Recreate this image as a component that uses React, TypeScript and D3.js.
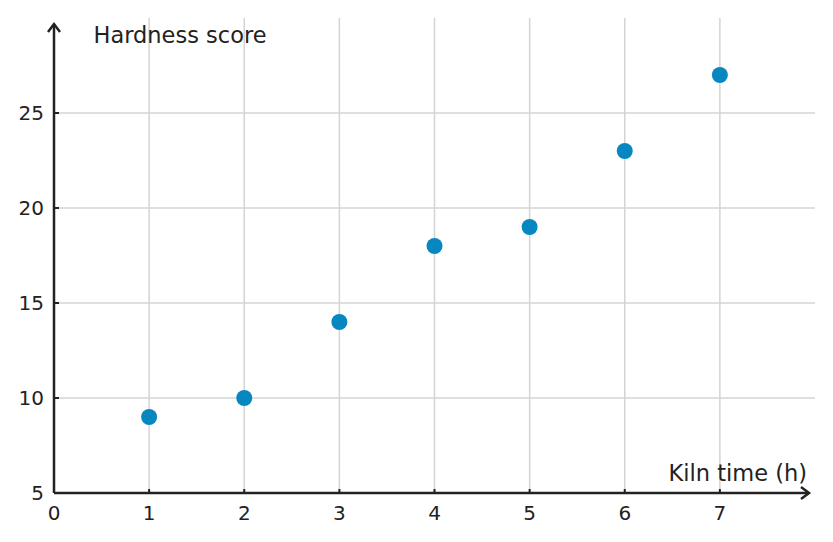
import React from "react";
import * as d3 from "d3";

const kilnHours = [1, 2, 3, 4, 5, 6, 7];
const hardness = [9, 10, 14, 18, 19, 23, 27];
const xTicks = [0, 1, 2, 3, 4, 5, 6, 7];
const yTicks = [5, 10, 15, 20, 25];
const xLabel = "Kiln time (h)";
const yLabel = "Hardness score";

const W = 833;
const H = 542;
const left = 54;
const right = 815;
const bottom = 493;
const top = 18;

export default function App() {
  const x = d3.scaleLinear().domain([0, 8]).range([left, right]);
  const y = d3.scaleLinear().domain([5, 30]).range([bottom, top]);
  const axisColor = "#222";
  const font = "DejaVu Sans, sans-serif";
  return (
    <svg
      width={W}
      height={H}
      style={{ position: "absolute", left: 0, top: 0, background: "#fff" }}
      fontFamily={font}
    >
      {/* grid */}
      {xTicks.filter((t) => t > 0).map((t) => (
        <line key={"gx" + t} x1={x(t)} x2={x(t)} y1={top} y2={bottom} stroke="#d4d4d4" strokeWidth={1.5} />
      ))}
      {yTicks.filter((t) => t > 5).map((t) => (
        <line key={"gy" + t} x1={left} x2={right} y1={y(t)} y2={y(t)} stroke="#d4d4d4" strokeWidth={1.5} />
      ))}
      {/* points */}
      {kilnHours.map((h, i) => (
        <circle key={"p" + i} cx={x(h)} cy={y(hardness[i])} r={8} fill="#0787c0" />
      ))}
      {/* axes */}
      <line x1={left} x2={809} y1={bottom} y2={bottom} stroke={axisColor} strokeWidth={2.5} />
      <line x1={left} x2={left} y1={bottom} y2={24} stroke={axisColor} strokeWidth={2.5} />
      <path d={`M${801},${bottom - 6} L${809},${bottom} L${801},${bottom + 6}`} fill="none" stroke={axisColor} strokeWidth={2.5} />
      <path d={`M${left - 6},${32} L${left},${24} L${left + 6},${32}`} fill="none" stroke={axisColor} strokeWidth={2.5} />
      {/* ticks */}
      {xTicks.filter((t) => t > 0).map((t) => (
        <line key={"tx" + t} x1={x(t)} x2={x(t)} y1={bottom} y2={bottom - 4} stroke={axisColor} strokeWidth={2} />
      ))}
      {yTicks.filter((t) => t > 5).map((t) => (
        <line key={"ty" + t} x1={left} x2={left + 5} y1={y(t)} y2={y(t)} stroke={axisColor} strokeWidth={2} />
      ))}
      {xTicks.map((t) => (
        <text key={"lx" + t} x={x(t)} y={520} textAnchor="middle" fontSize={20} fill={axisColor}>
          {t}
        </text>
      ))}
      {yTicks.map((t) => (
        <text key={"ly" + t} x={44} y={y(t) + 6.5} textAnchor="end" fontSize={20} fill={axisColor}>
          {t}
        </text>
      ))}
      <text x={93.5} y={43} fontSize={22.5} fill={axisColor}>
        {yLabel}
      </text>
      <text x={807} y={480.5} textAnchor="end" fontSize={22.5} fill={axisColor}>
        {xLabel}
      </text>
    </svg>
  );
}
